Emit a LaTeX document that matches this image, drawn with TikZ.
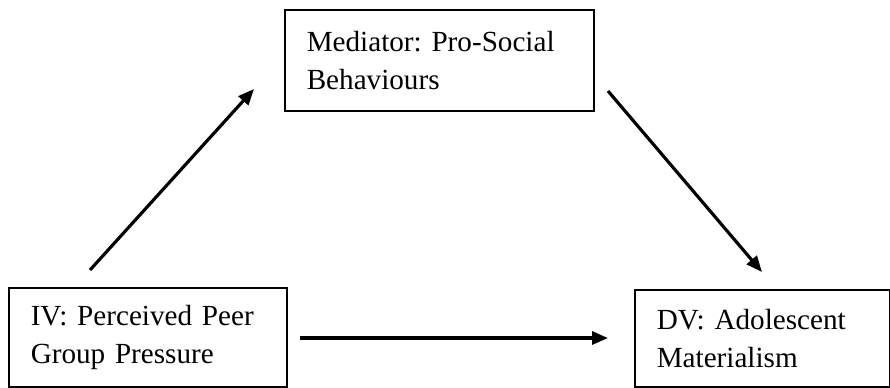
\documentclass[tikz,border=0pt]{standalone}
\usepackage{fontspec}
\setmainfont{Liberation Serif}
\usetikzlibrary{arrows.meta}
\tikzset{
  varbox/.style={
    draw=black,
    line width=0.9pt,
    inner xsep=0.44cm,
    inner ysep=0pt,
    align=left,
    anchor=north west,
    font=\frenchspacing\fontsize{16.6}{21.5}\selectfont
  },
  patharrow/.style={-{Triangle[length=0.32cm,width=0.26cm]},line width=1.8pt,draw=black}
}

\begin{document}
\begin{tikzpicture}[x=0.02cm,y=-0.02cm]
  \useasboundingbox (0,0) rectangle (890,387);

  \node[varbox, text width=5.30cm, minimum height=2.02cm] (med) at (284,9)   {Mediator: Pro-Social\\Behaviours};
  \node[varbox, text width=4.68cm, minimum height=1.98cm] (iv)  at (8,287)   {IV: Perceived Peer\\Group Pressure};
  \node[varbox, text width=4.22cm, minimum height=1.94cm] (dv)  at (634,289) {DV: Adolescent\\Materialism};

  % free ends of the paths
  \coordinate (ivtail)  at (90,270);
  \coordinate (medhead) at (254,89);
  \coordinate (medtail) at (608,91);
  \coordinate (dvhead)  at (762,272);
  \coordinate (ivside)  at (300,338);
  \coordinate (dvside)  at (608,338);

  \draw[patharrow] (ivtail) -- (medhead);
  \draw[patharrow] (medtail) -- (dvhead);
  \draw[patharrow] (ivside) -- (dvside);
\end{tikzpicture}
\end{document}
